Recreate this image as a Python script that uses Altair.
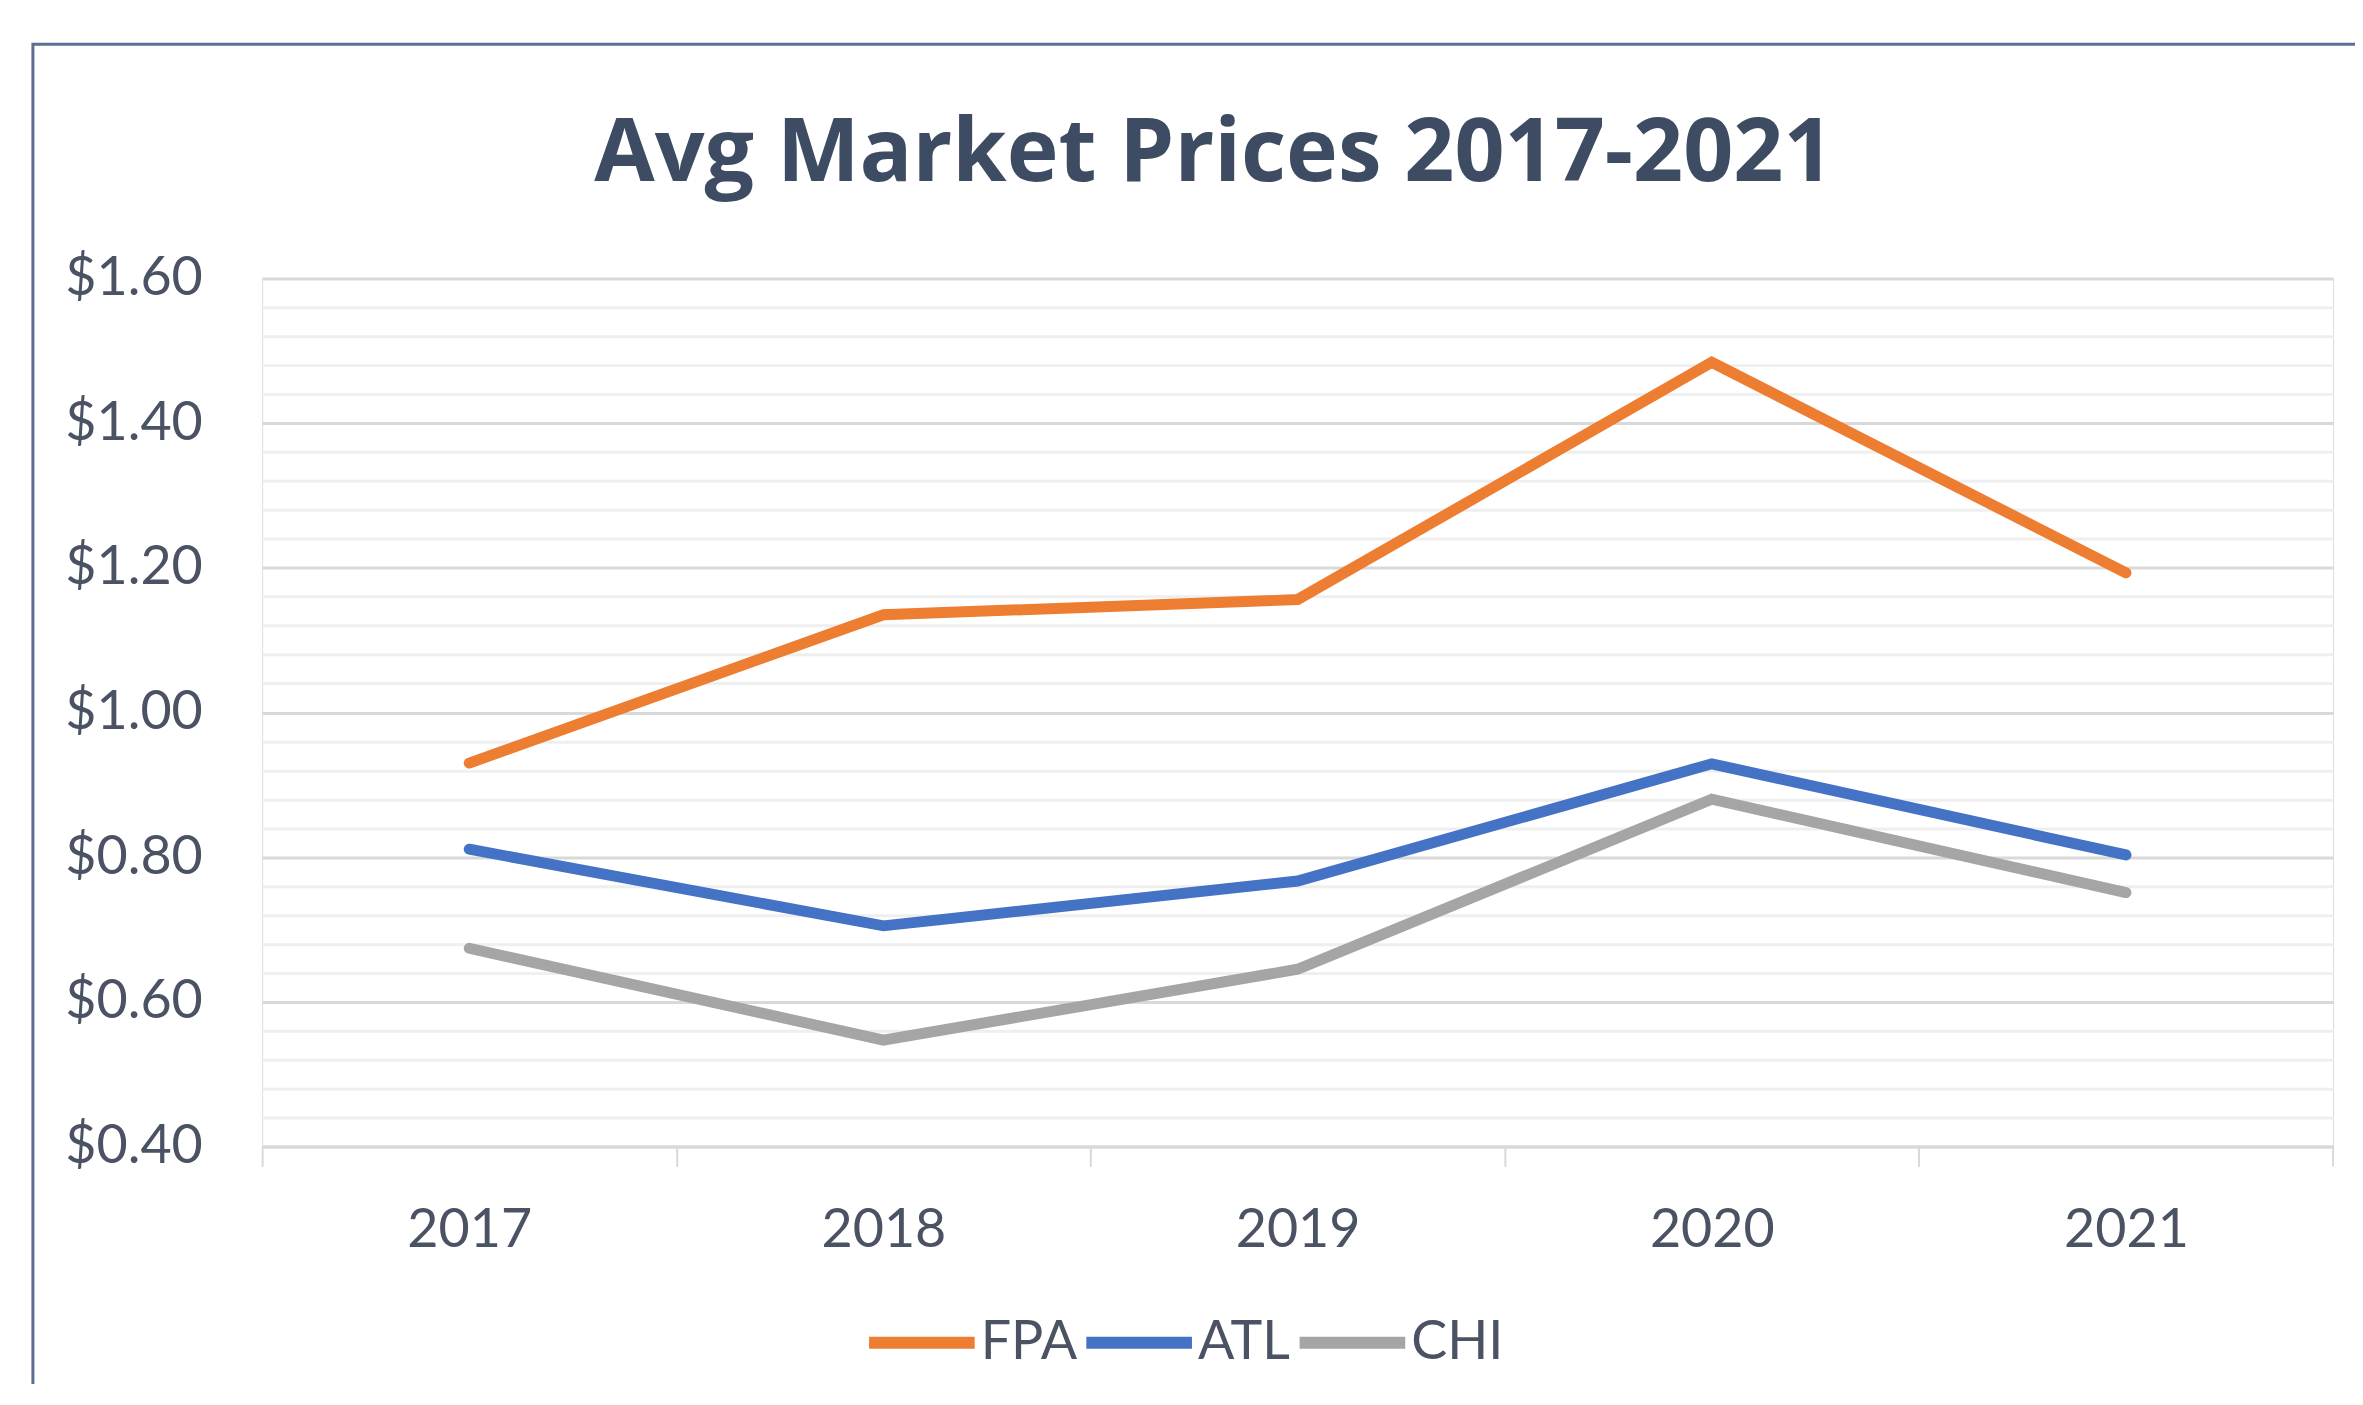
import altair as alt
import pandas as pd

years = ["2017", "2018", "2019", "2020", "2021"]
series = ["FPA", "ATL", "CHI"]
fpa = [0.93, 1.135, 1.156, 1.484, 1.193]
atl = [0.811, 0.705, 0.767, 0.929, 0.803]
chi = [0.674, 0.547, 0.645, 0.880, 0.751]
colors = ["#ED7D31", "#4472C4", "#A5A5A5"]
major_ticks = [0.4, 0.6, 0.8, 1.0, 1.2, 1.4, 1.6]
minor_ticks = [0.44, 0.48, 0.52, 0.56, 0.64, 0.68, 0.72, 0.76, 0.84, 0.88, 0.92, 0.96,
               1.04, 1.08, 1.12, 1.16, 1.24, 1.28, 1.32, 1.36, 1.44, 1.48, 1.52, 1.56]

rows = []
for name, vals in zip(series, [fpa, atl, chi]):
    for y, v in zip(years, vals):
        rows.append({"Year": y, "Series": name, "Price": v})
df = pd.DataFrame(rows)

W, H = 2078, 871
BAND = W / len(years)
LABEL_FONT = "Lato"
LABEL_COLOR = "#4a5264"
GRID = "#d9d9d9"

yscale = alt.Scale(domain=[0.4, 1.6], nice=False, zero=False)

border = alt.Chart(alt.Data(values=[{}])).mark_rect(
    fillOpacity=0, stroke="#5b6e93", strokeWidth=3
).encode(
    x=alt.value(-230), x2=alt.value(W + 300),
    y=alt.value(-235), y2=alt.value(H + 400),
)

minor = alt.Chart(df).mark_point(opacity=0).encode(
    y=alt.Y("Price:Q", scale=yscale,
            axis=alt.Axis(orient="right", values=minor_ticks, labels=False, ticks=False,
                          domain=False, grid=True, gridColor="#efefef", gridWidth=3,
                          title=None)),
)

lines = alt.Chart(df).mark_line(strokeWidth=11, strokeCap="round").encode(
    x=alt.X("Year:O", sort=years, scale=alt.Scale(type="point", padding=0.5),
            axis=alt.Axis(title=None, labelAngle=0, tickOffset=-BAND / 2,
                          labelOffset=BAND / 2,
                          domainColor=GRID, domainWidth=3, tickColor=GRID, tickWidth=2,
                          tickSize=20, labelPadding=37, labelFont=LABEL_FONT,
                          labelFontSize=54, labelColor=LABEL_COLOR, grid=False)),
    y=alt.Y("Price:Q", scale=yscale,
            axis=alt.Axis(values=major_ticks, format="$.2f", title=None, ticks=False,
                          tickSize=0, domain=False, grid=True, gridColor=GRID, gridWidth=3,
                          labelPadding=60, labelFont=LABEL_FONT, labelFontSize=54,
                          labelColor=LABEL_COLOR)),
    color=alt.Color("Series:N", sort=series,
                    scale=alt.Scale(domain=series, range=colors),
                    legend=alt.Legend(orient="none", legendX=603, legendY=1009,
                                      direction="horizontal", title=None,
                                      symbolType="stroke", symbolSize=11236,
                                      symbolStrokeWidth=12, labelFont=LABEL_FONT,
                                      labelFontSize=54, labelColor=LABEL_COLOR,
                                      labelOffset=0, columnPadding=-15, padding=0)),
)

end_tick = alt.Chart(alt.Data(values=[{}])).mark_rule(color=GRID, strokeWidth=2).encode(
    x=alt.value(W), y=alt.value(H), y2=alt.value(H + 20)
)

chart = alt.layer(border, minor, lines, end_tick).resolve_axis(y="independent").properties(
    width=W, height=H,
    autosize=alt.AutoSizeParams(type="none"),
    padding={"left": 255, "top": 269, "right": 22, "bottom": 236},
    title=alt.TitleParams("Avg Market Prices 2017-2021", font="Open Sans", fontSize=88,
                          fontWeight="bold", color="#3d4b63", anchor="middle", dx=-84,
                          offset=-157),
).configure_view(strokeWidth=0).configure(background="white")

chart.save("out.html", embed_options={"renderer": "svg", "actions": False})
